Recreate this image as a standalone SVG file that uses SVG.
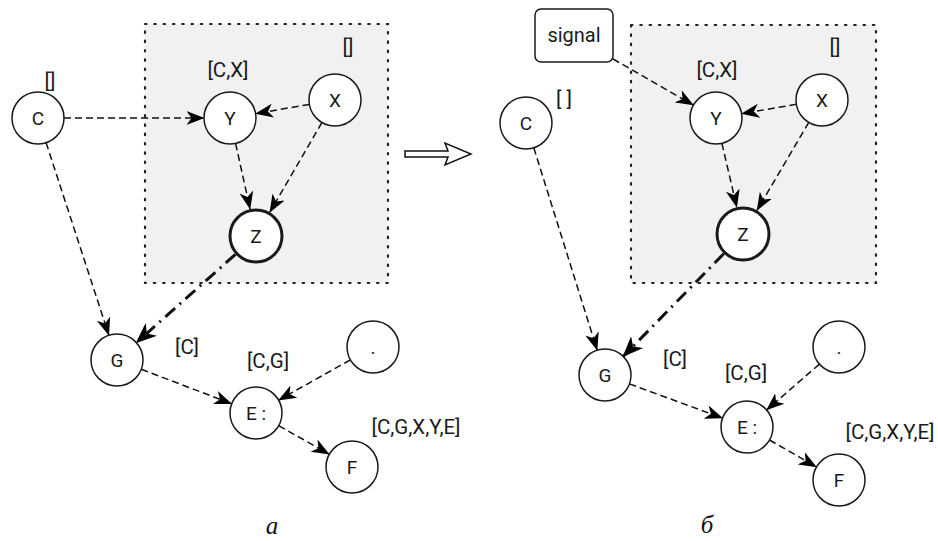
<svg xmlns="http://www.w3.org/2000/svg" width="938" height="541" viewBox="0 0 938 541">
<defs>
<style>
.box{fill:#f1f1f1;stroke:#222;stroke-width:2.2;stroke-dasharray:1.5 7.8;stroke-linecap:round}
.nd{fill:#fff;stroke:#1a1a1a;stroke-width:1.5}
.nd.thick{stroke-width:3}
.nt{font-family:Roboto,"Liberation Sans",sans-serif;font-size:19px;fill:#1a1a1a;text-anchor:middle}
.lb{font-family:Roboto,"Liberation Sans",sans-serif;font-size:20.5px;fill:#1a1a1a;text-anchor:middle}
.dash{fill:none;stroke:#111;stroke-width:1.5;stroke-dasharray:7 4;marker-end:url(#arr)}
.dd{fill:none;stroke:#111;stroke-width:3;stroke-dasharray:13 6 2 6;marker-end:url(#arrB)}
.cap{font-family:"Liberation Serif","Times New Roman",serif;font-style:italic;font-size:25px;fill:#111;text-anchor:middle}
</style>
<marker id="arr" markerUnits="userSpaceOnUse" markerWidth="18" markerHeight="16" viewBox="0 0 18 16" refX="17.5" refY="8" orient="auto"><path d="M0,1 L18,8 L0,15 L5,8 Z" fill="#000"/></marker>
<marker id="arrB" markerUnits="userSpaceOnUse" markerWidth="21" markerHeight="19" viewBox="0 0 21 19" refX="20" refY="9.5" orient="auto"><path d="M0,1 L21,9.5 L0,18 L6,9.5 Z" fill="#000"/></marker>
</defs>

<!-- groups (containers) -->
<g id="groupA"><rect class="box" x="145" y="24" width="243" height="259"/></g>
<g id="groupB"><rect class="box" x="631" y="25" width="245" height="258"/></g>

<!-- connectors -->
<g id="connectors">
<!-- left -->
<path class="dash" d="M64,118 L204,118"/>
<path class="dash" d="M309.4,104.4 L255.6,113.6"/>
<path class="dash" d="M235.6,143.4 L250.1,209.1"/>
<path class="dash" d="M321.9,122.5 L269.8,212.2"/>
<path class="dd" d="M235.5,254.3 L136.4,342.7"/>
<path class="dash" d="M46.1,142.7 L108.9,335.3"/>
<path class="dash" d="M141.3,369.3 L231.7,403.7"/>
<path class="dash" d="M350.4,359.8 L278.6,400.2"/>
<path class="dash" d="M278.7,425.7 L329.3,454.3"/>
<!-- right -->
<path class="dash" d="M613,59 L693.4,105.1"/>
<path class="dash" d="M796.4,104.3 L741.6,113.7"/>
<path class="dash" d="M721.9,143.3 L736.8,207.2"/>
<path class="dash" d="M808.8,122.4 L757,210.3"/>
<path class="dd" d="M723.8,253.7 L623.2,356.4"/>
<path class="dash" d="M533.8,147.8 L597.2,350.2"/>
<path class="dash" d="M629.4,383.9 L722.6,418.1"/>
<path class="dash" d="M819.4,364.1 L766.6,410"/>
<path class="dash" d="M769.5,440 L816.5,467"/>
</g>

<!-- left diagram nodes -->
<g id="a-C"><circle class="nd" cx="38" cy="118" r="26"/><text class="nt" x="38" y="125">C</text></g>
<g id="a-Y"><circle class="nd" cx="230" cy="118" r="26"/><text class="nt" x="230" y="125">Y</text></g>
<g id="a-X"><circle class="nd" cx="335" cy="100" r="26"/><text class="nt" x="335" y="107">X</text></g>
<g id="a-Z"><circle class="nd thick" cx="256" cy="236" r="26"/><text class="nt" x="256" y="243">Z</text></g>
<g id="a-G"><circle class="nd" cx="117" cy="360" r="26"/><text class="nt" x="117" y="367">G</text></g>
<g id="a-D"><circle class="nd" cx="373" cy="347" r="26"/><text class="nt" x="373" y="354">.</text></g>
<g id="a-E"><circle class="nd" cx="256" cy="413" r="26"/><text class="nt" x="256" y="420">E :</text></g>
<g id="a-F"><circle class="nd" cx="352" cy="467" r="26"/><text class="nt" x="352" y="474">F</text></g>

<g id="a-labels">
<text class="lb" x="50" y="88">[]</text>
<text class="lb" x="228" y="77">[C,X]</text>
<text class="lb" x="348" y="54">[]</text>
<text class="lb" x="187" y="354">[C]</text>
<text class="lb" x="268" y="368">[C,G]</text>
<text class="lb" x="416" y="434">[C,G,X,Y,E]</text>
</g>

<!-- transition arrow -->
<g id="transition"><polygon points="405,151 448,151 445,143 471,154 445,165 448,157 405,157" fill="#fff" stroke="#111" stroke-width="1.5" stroke-linejoin="miter"/></g>

<!-- right diagram nodes -->
<g id="b-signal"><rect x="535" y="9" width="78" height="53" rx="6" ry="6" fill="#fff" stroke="#1a1a1a" stroke-width="1.5"/><text class="lb" x="574" y="42" style="font-size:20px">signal</text></g>
<g id="b-C"><circle class="nd" cx="526" cy="123" r="26"/><text class="nt" x="526" y="130">C</text></g>
<g id="b-Y"><circle class="nd" cx="716" cy="118" r="26"/><text class="nt" x="716" y="125">Y</text></g>
<g id="b-X"><circle class="nd" cx="822" cy="100" r="26"/><text class="nt" x="822" y="107">X</text></g>
<g id="b-Z"><circle class="nd thick" cx="743" cy="234" r="26"/><text class="nt" x="743" y="241">Z</text></g>
<g id="b-G"><circle class="nd" cx="605" cy="375" r="26"/><text class="nt" x="605" y="382">G</text></g>
<g id="b-D"><circle class="nd" cx="839" cy="347" r="26"/><text class="nt" x="839" y="354">.</text></g>
<g id="b-E"><circle class="nd" cx="747" cy="427" r="26"/><text class="nt" x="747" y="434">E :</text></g>
<g id="b-F"><circle class="nd" cx="839" cy="480" r="26"/><text class="nt" x="839" y="487">F</text></g>

<g id="b-labels">
<text class="lb" x="564" y="106">[ ]</text>
<text class="lb" x="717" y="77">[C,X]</text>
<text class="lb" x="835" y="54">[]</text>
<text class="lb" x="675" y="366">[C]</text>
<text class="lb" x="746" y="380">[C,G]</text>
<text class="lb" x="890" y="439">[C,G,X,Y,E]</text>
</g>

<g id="captions">
<text class="cap" x="272" y="534">а</text>
<text class="cap" x="707" y="533">б</text>
</g>
</svg>
